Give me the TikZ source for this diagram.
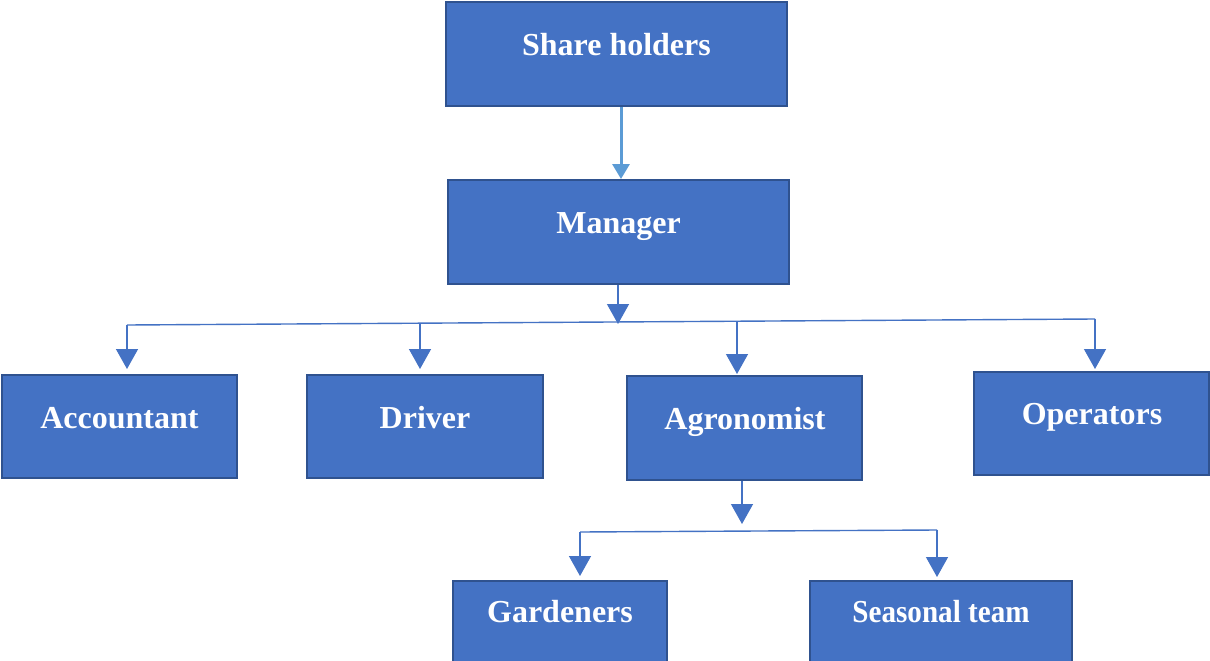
\documentclass[tikz,border=0pt]{standalone}
\usepackage{fontspec}
\setmainfont{Liberation Serif}
\usetikzlibrary{arrows.meta}
\definecolor{boxfill}{HTML}{4472C4}
\definecolor{boxline}{HTML}{2F528F}
\definecolor{conn}{HTML}{4472C4}
\definecolor{topconn}{HTML}{5B9BD5}
\begin{document}
\begin{tikzpicture}[x=1pt,y=-1pt,
  orgbox/.style={draw=boxline,fill=boxfill,line width=2pt,inner sep=0pt},
  lbl/.style={anchor=base,text=white,inner sep=0pt,font=\fontsize{32}{38}\selectfont\bfseries},
  link/.style={draw=conn,line width=1.4pt},
  arr/.style={link,-{Triangle[width=22pt,length=20pt]}},
  toparr/.style={draw=topconn,line width=3pt,-{Triangle[width=17pt,length=15pt]}}]
\clip (0,0) rectangle (1210,661);
\fill[white] (0,0) rectangle (1210,661);
% boxes
\node[orgbox,minimum width=341pt,minimum height=104pt] (sh) at (616.5,54) {};
\node[orgbox,minimum width=341pt,minimum height=104pt] (mgr) at (618.5,232) {};
\node[orgbox,minimum width=235pt,minimum height=103pt] (acc) at (119.5,426.5) {};
\node[orgbox,minimum width=236pt,minimum height=103pt] (drv) at (425,426.5) {};
\node[orgbox,minimum width=235pt,minimum height=104pt] (agr) at (744.5,428) {};
\node[orgbox,minimum width=235pt,minimum height=103pt] (ops) at (1091.5,423.5) {};
\node[orgbox,minimum width=214pt,minimum height=120pt] (gar) at (560,641) {};
\node[orgbox,minimum width=262pt,minimum height=120pt] (sea) at (941,641) {};
% labels
\node[lbl] (sh-t) at (616.5,56) {Share holders};
\node[lbl] (mgr-t) at (618.5,233) {Manager};
\node[lbl] (acc-t) at (119.5,428) {Accountant};
\node[lbl] (drv-t) at (425,428) {Driver};
\node[lbl] (agr-t) at (745,429) {Agronomist};
\node[lbl] (ops-t) at (1092,424) {Operators};
\node[lbl] (gar-t) at (560,622) {Gardeners};
\node[lbl] (sea-t) at (941,622) {\scalebox{0.91}[1]{Seasonal team}};
% connectors
\draw[toparr] (sh.south -| 621,0) -- (mgr.north -| 621,0);
\coordinate (b1) at (618,324);
\coordinate (b1L) at (127,325);
\coordinate (b1R) at (1095,319);
\coordinate (b1D) at (420,324);
\coordinate (b1A) at (737,322);
\draw[arr] (mgr.south -| b1) -- (b1);
\draw[link] (b1L) -- (b1R);
\draw[arr] (b1L) -- ([yshift=5pt]b1L |- acc.north);
\draw[arr] (b1D) -- ([yshift=5pt]b1D |- drv.north);
\draw[arr] (b1A) -- ([yshift=1pt]b1A |- agr.north);
\draw[arr] (b1R) -- ([yshift=2pt]b1R |- ops.north);
\coordinate (b2) at (742,524);
\coordinate (b2L) at (580,532);
\coordinate (b2R) at (937,530);
\draw[arr] (agr.south -| b2) -- (b2);
\draw[link] (b2L) -- (b2R);
\draw[arr] (b2L) -- ([yshift=4pt]b2L |- gar.north);
\draw[arr] (b2R) -- ([yshift=3pt]b2R |- sea.north);
\end{tikzpicture}
\end{document}
